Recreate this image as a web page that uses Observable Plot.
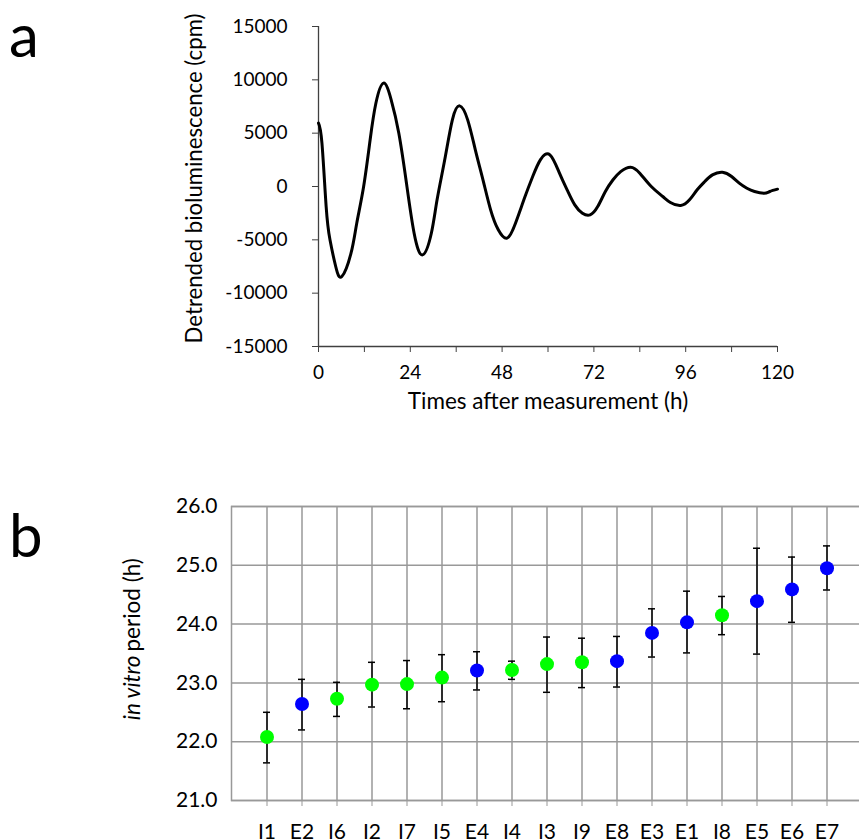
<!DOCTYPE html>
<html><head><meta charset="utf-8">
<script src="https://cdn.jsdelivr.net/npm/d3@7"></script>
<script src="https://cdn.jsdelivr.net/npm/@observablehq/plot@0.6"></script>
<style>
html,body{margin:0;padding:0;background:#fff;overflow:hidden;}
#wrap{position:relative;width:859px;height:839px;overflow:hidden;}
#wrap svg{position:absolute;left:0;}
</style></head><body><div id="wrap"></div>
<script>
// Panel a: detrended bioluminescence trace
const hours = [0, 0.9, 2, 3, 4.5, 6.1, 8.5, 10, 11.8, 13.5, 15, 17, 19, 21, 23, 25, 27.2, 29.5, 31, 33, 35, 36.9, 39, 41, 43, 45, 47, 49.3, 51.5, 54, 56, 58, 60.5, 63, 65, 67, 69, 71, 73, 75, 77, 79, 81.6, 84, 87, 90, 92, 94.7, 97, 99, 101, 103, 105.6, 108, 110, 112, 114, 116.5, 118, 120];
const signal = [5940, 4060, -1880, -5000, -7500, -8440, -6250, -3440, 0, 4380, 7800, 9690, 8130, 5000, 310, -4380, -6410, -4380, -1250, 2500, 6250, 7560, 6250, 3440, 630, -2190, -4060, -4840, -3440, -940, 940, 2500, 2970, 1250, -310, -1720, -2500, -2660, -1880, -470, 630, 1400, 1810, 1250, 0, -940, -1500, -1780, -1250, -310, 470, 1090, 1340, 940, 310, -160, -470, -630, -470, -250];
const xTicksA = [0, 12, 24, 36, 48, 60, 72, 84, 96, 108, 120];
const xLabelsA = [0, 24, 48, 72, 96, 120];
const yTicksA = [-15000, -10000, -5000, 0, 5000, 10000, 15000];

// Panel b: in vitro period per sample
const samples = ["I1","E2","I6","I2","I7","I5","E4","I4","I3","I9","E8","E3","E1","I8","E5","E6","E7"];
const groups  = ["I","E","I","I","I","I","E","I","I","I","E","E","E","I","E","E","E"];
const periods = [22.08, 22.64, 22.73, 22.97, 22.98, 23.09, 23.21, 23.22, 23.32, 23.35, 23.37, 23.85, 24.03, 24.15, 24.39, 24.59, 24.95];
const upper   = [22.50, 23.06, 23.01, 23.35, 23.38, 23.48, 23.53, 23.37, 23.78, 23.76, 23.79, 24.26, 24.56, 24.47, 25.29, 25.14, 25.33];
const lower   = [21.64, 22.20, 22.43, 22.59, 22.56, 22.68, 22.88, 23.06, 22.84, 22.92, 22.93, 23.44, 23.51, 23.82, 23.49, 24.03, 24.58];
const yTicksB = [21, 22, 23, 24, 25, 26];
const groupColors = ["#00ff00", "#0000ff"];

const font = "Lato, 'Open Sans', sans-serif";
const lineData = hours.map((t, i) => ({t, v: signal[i]}));
const dataB = samples.map((s, i) => ({s, g: groups[i], p: periods[i], hi: upper[i], lo: lower[i]}));

const plotA = Plot.plot({
  width: 859, height: 420,
  marginLeft: 318, marginRight: 82, marginTop: 26, marginBottom: 74,
  style: {fontFamily: font, fontSize: "19px", color: "#000", background: "transparent", overflow: "visible"},
  x: {domain: [0, 120]},
  y: {domain: [-15000, 15000]},
  marks: [
    Plot.ruleX([0], {stroke: "#404040", strokeWidth: 1.3}),
    Plot.ruleY([-15000], {stroke: "#404040", strokeWidth: 1.3}),
    Plot.axisY({ticks: yTicksA, tickSize: 6, tickPadding: 25, tickFormat: d => String(d), label: null, stroke: "#404040", fill: "#000"}),
    Plot.axisX({ticks: xTicksA, tickSize: 6, tickPadding: 13, tickFormat: d => xLabelsA.includes(d) ? String(d) : "", label: null, stroke: "#404040", fill: "#000"}),
    Plot.line(lineData, {x: "t", y: "v", curve: "natural", stroke: "#000", strokeWidth: 3}),
    Plot.text(["Detrended bioluminescence (cpm)"], {frameAnchor: "left", textAnchor: "middle", dx: -124, dy: -8, rotate: -90, fontSize: 22.2, fill: "#000"}),
    Plot.text(["Times after measurement (h)"], {frameAnchor: "bottom", dy: 47, lineAnchor: "top", fontSize: 22.5, fill: "#000"})
  ]
});

const plotB = Plot.plot({
  width: 859, height: 419,
  marginLeft: 231, marginRight: -3, marginTop: 86, marginBottom: 39,
  style: {fontFamily: font, fontSize: "21px", color: "#000", background: "transparent", overflow: "visible"},
  x: {type: "band", domain: samples, paddingInner: 0, paddingOuter: 0.5},
  y: {domain: [21, 26]},
  color: {domain: ["I", "E"], range: groupColors},
  marks: [
    Plot.gridY(yTicksB, {stroke: "#999", strokeOpacity: 1, strokeWidth: 1.5}),
    Plot.gridX({stroke: "#999", strokeOpacity: 1, strokeWidth: 1.5}),
    Plot.frame({stroke: "#999", strokeWidth: 1.5}),
    Plot.axisX({tickSize: 6, tickPadding: 18, stroke: "#999", fill: "#000", label: null}),
    Plot.axisY({ticks: yTicksB, tickSize: 0, tickPadding: 14, tickFormat: d => d.toFixed(1), label: null, fill: "#000"}),
    Plot.ruleX(dataB, {x: "s", y1: "lo", y2: "hi", stroke: "#000", strokeWidth: 1.5}),
    Plot.tickY(dataB, {x: "s", y: "hi", stroke: "#000", strokeWidth: 1.5, insetLeft: 14, insetRight: 14}),
    Plot.tickY(dataB, {x: "s", y: "lo", stroke: "#000", strokeWidth: 1.5, insetLeft: 14, insetRight: 14}),
    Plot.dot(dataB, {x: "s", y: "p", fill: "g", r: 7}),
    Plot.text(["in vitro"], {frameAnchor: "left", dx: -99, dy: 2, rotate: -90, textAnchor: "end", fontStyle: "italic", fontSize: 22.5, fill: "#000"}),
    Plot.text(["period (h)"], {frameAnchor: "left", dx: -99, dy: -2, rotate: -90, textAnchor: "start", fontSize: 22.5, fill: "#000"})
  ]
});

plotA.style.top = "0px";
plotB.style.top = "420px";
d3.select(plotA).append("text").attr("x", 9).attr("y", 56.7).attr("font-size", 60).attr("text-anchor", "start").attr("fill", "#000").text("a");
d3.select(plotB).append("text").attr("x", 9).attr("y", 136.7).attr("font-size", 60).attr("text-anchor", "start").attr("fill", "#000").text("b");
const wrap = document.getElementById("wrap");
wrap.appendChild(plotA);
wrap.appendChild(plotB);
</script>
</body></html>
